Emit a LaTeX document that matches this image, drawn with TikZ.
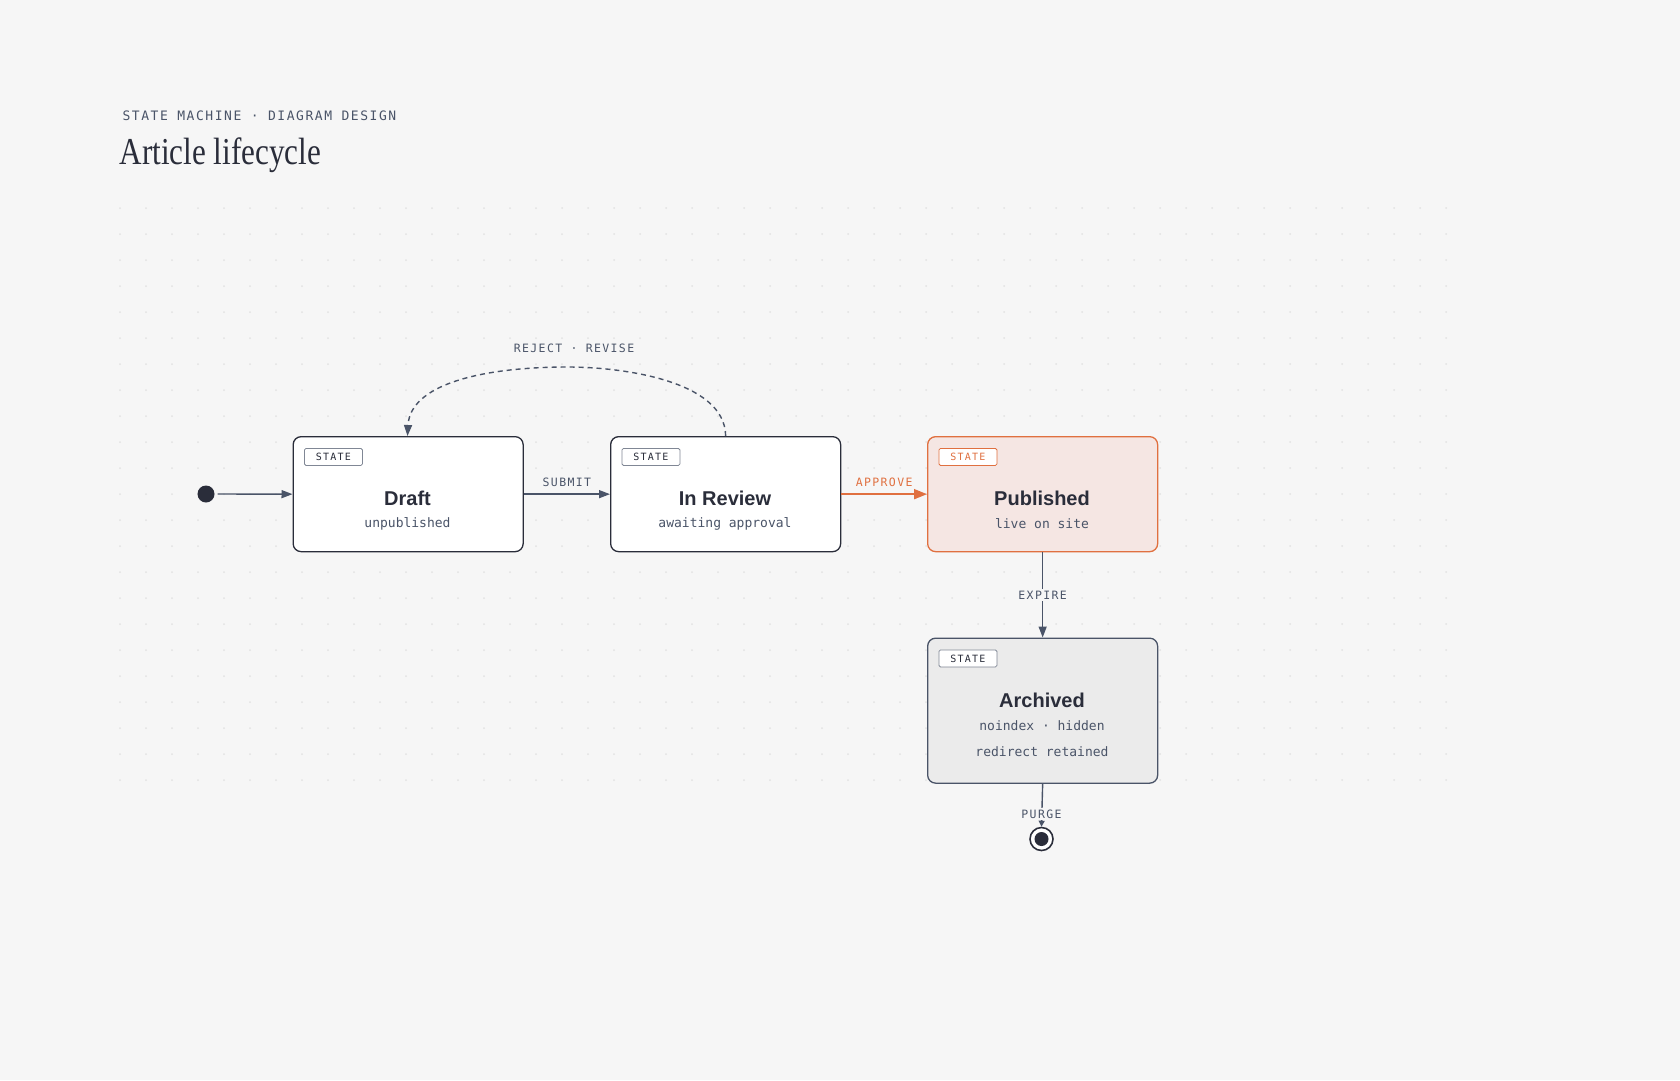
\documentclass[tikz,border=0pt]{standalone}
\usepackage{fontspec}
\setmainfont{Liberation Sans}
\newfontfamily\monof{DejaVu Sans Mono}
\newfontfamily\monosp[LetterSpace=12]{DejaVu Sans Mono}
\newfontfamily\titlef[FakeStretch=0.82]{Liberation Serif}
\usetikzlibrary{arrows.meta}
\definecolor{bg}{HTML}{F6F6F6}
\definecolor{ink}{HTML}{2A2D3A}
\definecolor{edge}{HTML}{4A5468}
\definecolor{orng}{HTML}{E07040}
\definecolor{pubfill}{HTML}{F5E6E3}
\definecolor{arcfill}{HTML}{EBEBEB}
\definecolor{dotc}{HTML}{E2E2E2}
\begin{document}
\begin{tikzpicture}[x=1pt,y=-1pt,
  state/.style={draw=ink,line width=1.3pt,rounded corners=8pt,fill=white,minimum width=230pt,minimum height=115pt,anchor=north west,inner sep=0pt},
  tag/.style={draw=#1,line width=0.8pt,rounded corners=1.5pt,fill=white,minimum width=58pt,minimum height=17pt,inner sep=0pt,font=\monosp\fontsize{10}{10}\selectfont,text=ink,anchor=north west},
  sname/.style={font=\bfseries\fontsize{20}{20}\selectfont,text=ink},
  ssub/.style={font=\monof\fontsize{13}{13}\selectfont,text=edge},
  lab/.style={font=\monosp\fontsize{11.5}{11.5}\selectfont,text=edge},
  conn/.style={draw=edge,line width=1.4pt,-{Triangle[length=11pt,width=8pt]}}]
\fill[bg] (0,0) rectangle (1680,1080);
\useasboundingbox (0,0) rectangle (1680,1080);
\foreach \i in {0,...,51} \foreach \j in {0,...,22}
  \fill[dotc] (120+\i*26,208+\j*26) circle (1pt);
\node[anchor=west,font=\monosp\fontsize{13}{13}\selectfont,text=edge] (hdr) at (119,116) {STATE MACHINE · DIAGRAM DESIGN};
\node[anchor=west,font=\titlef\fontsize{38}{38}\selectfont,text=ink] (ttl) at (116,155) {Article lifecycle};
% states
\node[state] (draft) at (292.5,436) {};
\node[state] (rev) at (610,436) {};
\node[state,draw=orng,fill=pubfill] (pub) at (927,436) {};
\node[state,draw=edge,fill=arcfill,minimum height=145pt] (arc) at (927,637.5) {};
\node[tag=edge!70] (t1) at (304,448) {STATE};
\node[tag=edge!70] (t2) at (621.5,448) {STATE};
\node[tag=orng,text=orng] (t3) at (938.5,448) {STATE};
\node[tag=edge!70] (t4) at (938.5,649.5) {STATE};
\node[sname] (n1) at (407.5,498) {Draft};
\node[ssub] (s1) at (407.5,524) {unpublished};
\node[sname] (n2) at (725,498) {In Review};
\node[ssub] (s2) at (725,524) {awaiting approval};
\node[sname] (n3) at (1042,498) {Published};
\node[ssub] (s3) at (1042,524) {live on site};
\node[sname] (n4) at (1042,700) {Archived};
\node[ssub] (s4) at (1042,725.5) {noindex · hidden};
\node[ssub] (s5) at (1042,751.5) {redirect retained};
% initial / final
\node[circle,fill=ink,minimum size=17pt,inner sep=0pt] (init) at (206,494) {};
\node[circle,draw=ink,line width=1.6pt,fill=white,minimum size=23pt,inner sep=0pt] (fin) at (1041.5,839) {};
\fill[ink] (fin.center) circle (7pt);
% connectors
\draw[conn] (init.east) ++(3,0) coordinate (ie) (ie) -- (draft.west);
\draw[conn] (draft.east) -- (rev.west) node[midway,above=3pt,lab] (l1) {SUBMIT};
\draw[conn,draw=orng,line width=1.8pt,-{Triangle[length=13pt,width=10pt]},fill=orng] (rev.east) -- (pub.west) node[midway,above=3pt,lab,text=orng] (l2) {APPROVE};
\draw[conn,dashed,dash pattern=on 5pt off 4pt] (rev.north) .. controls (725,380) and (620,367) .. (568,367) .. controls (480,367) and (410,385) .. (407.5,436);
\node[lab] (l3) at (574,348) {REJECT · REVISE};
\draw[conn] (pub.south) -- (arc.north) node[pos=0.5,fill=bg,lab,inner sep=2pt] (l4) {EXPIRE};
\draw[conn,-{Triangle[length=6pt,width=6pt]}] (arc.south) -- (fin.north);
\node[lab,fill=bg,inner sep=2pt] (l5) at (1041.5,814) {PURGE};
\end{tikzpicture}
\end{document}
